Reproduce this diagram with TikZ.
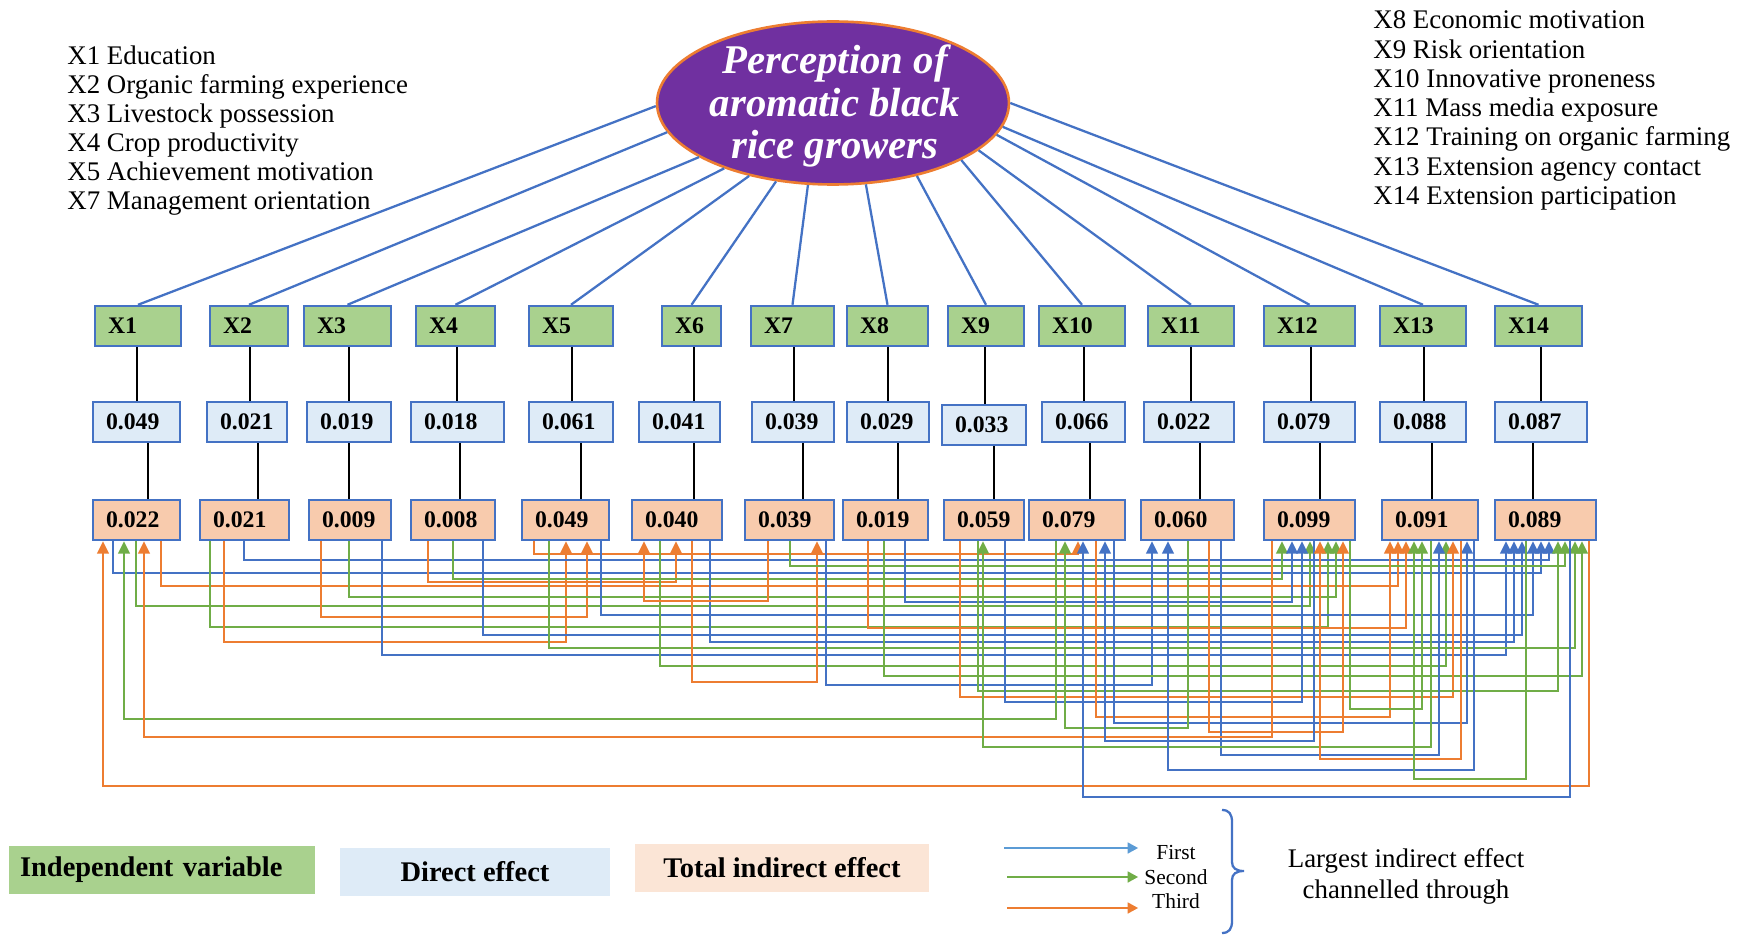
\documentclass[tikz,border=0pt]{standalone}
\usepackage{fontspec}
\setmainfont{Liberation Serif}
\usetikzlibrary{shapes.geometric,arrows.meta}
\definecolor{mblue}{HTML}{4472C4}
\definecolor{mgreen}{HTML}{70AD47}
\definecolor{morange}{HTML}{ED7D31}
\definecolor{mlight}{HTML}{5B9BD5}
\definecolor{gfill}{HTML}{A9D18E}
\definecolor{dfill}{HTML}{DEEBF7}
\definecolor{tfill}{HTML}{F8CBAD}
\definecolor{tfilllight}{HTML}{FBE5D6}
\definecolor{mpurple}{HTML}{7030A0}
\begin{document}
\begin{tikzpicture}[x=0.02cm,y=-0.02cm,
  key/.style={font=\fontsize{15.3}{17}\selectfont,inner sep=0pt},
  box/.style={draw=mblue,line width=1.4pt,inner xsep=0.26cm,inner ysep=0pt,
    minimum height=0.8cm,align=left,font=\fontsize{13.5}{15}\selectfont\bfseries},
  legbox/.style={minimum height=0.96cm,font=\fontsize{16.2}{18}\selectfont\bfseries},
  spoke/.style={mblue,line width=1.3pt},
  stem/.style={black,line width=1.2pt},
  bflow/.style={mblue,line width=1.3pt,-{Triangle[width=6.5pt,length=7pt]}},
  gflow/.style={mgreen,line width=1.3pt,-{Triangle[width=6.5pt,length=7pt]}},
  oflow/.style={morange,line width=1.3pt,-{Triangle[width=6.5pt,length=7pt]}},
  legarrow/.style={line width=1.6pt,-{Triangle[width=6pt,length=6pt]}}]
\useasboundingbox (0,0) rectangle (1745,936);
% Central variable
\node[ellipse,fill=mpurple,draw=morange,line width=1.5pt,minimum width=7.04cm,minimum height=3.26cm] (perc) at (833,103) {};
\node[text=white,align=center,font=\fontsize{23.2}{24.4}\selectfont\bfseries\itshape] (perctext) at (835,106) {Perception of\\aromatic black\\rice growers};
% Variable names
\foreach \txt [count=\k] in {X1 Education,X2 Organic farming experience,X3 Livestock possession,X4 Crop productivity,X5 Achievement motivation,X7 Management orientation}
  \node[key,anchor=base west] (kl\k) at (67,{64.5+29*(\k-1)}) {\txt};
\foreach \txt [count=\k] in {X8 Economic motivation,X9 Risk orientation,X10 Innovative proneness,X11 Mass media exposure,X12 Training on organic farming,X13 Extension agency contact,X14 Extension participation}
  \node[key,anchor=base west] (kr\k) at (1373,{29+29.2*(\k-1)}) {\txt};
% Boxes: variable, direct effect, total indirect effect
\foreach \i/\gl/\gr/\dv/\dl/\dr/\dy/\tv/\tl/\tr/\ax/\bx in {
  1/95/181/0.049/93/180/422/0.022/93/180/137/148,
  2/210/288/0.021/207/287/422/0.021/200/289/250/258,
  3/304/391/0.019/307/391/422/0.009/309/391/349/349,
  4/416/495/0.018/411/504/422/0.008/411/495/457/460,
  5/529/613/0.061/529/613/422/0.049/522/609/572/581,
  6/662/721/0.041/639/720/422/0.040/632/722/694/694,
  7/751/834/0.039/752/834/422/0.039/745/834/794/803,
  8/847/928/0.029/847/929/422/0.019/843/928/888/898,
  9/948/1024/0.033/942/1026/425/0.059/944/1024/985/994,
  10/1039/1125/0.066/1042/1125/422/0.079/1029/1125/1084/1090,
  11/1148/1234/0.022/1144/1234/422/0.060/1141/1234/1191/1200,
  12/1264/1355/0.079/1264/1355/422/0.099/1264/1355/1311/1320,
  13/1380/1466/0.088/1380/1466/422/0.091/1382/1478/1424/1432,
  14/1495/1582/0.087/1495/1587/422/0.089/1495/1596/1541/1533}{
  \pgfmathsetmacro\gw{(\gr-\gl-26)*0.02}
  \pgfmathsetmacro\dw{(\dr-\dl-26)*0.02}
  \pgfmathsetmacro\tw{(\tr-\tl-26)*0.02}
  \node[box,fill=gfill,text width=\gw cm] (g\i) at ({(\gl+\gr)/2},326) {X\i};
  \node[box,fill=dfill,text width=\dw cm] (d\i) at ({(\dl+\dr)/2},\dy) {\dv};
  \node[box,fill=tfill,text width=\tw cm] (t\i) at ({(\tl+\tr)/2},520) {\tv};
  \draw[stem] (g\i.south -| \ax,0) -- (d\i.north -| \ax,0);
  \draw[stem] (d\i.south -| \bx,0) -- (t\i.north -| \bx,0);
}
% Spokes from the ellipse
\foreach \i/\a in {1/181,2/190,3/202,4/211,5/221,6/234,7/253,8/292,9/319,10/336,11/342,12/349,13/352,14/0}
  \draw[spoke] (perc.\a) -- (g\i.north);
% Largest indirect effects
\foreach \col/\src/\sx/\lv/\tg/\tx in {
  bflow/1/113/573/14/1541, gflow/1/136/606/12/1310, oflow/1/161/586/13/1398,
  gflow/2/210/627/12/1328, oflow/2/224/642/5/566, bflow/2/244/560/14/1549,
  oflow/3/321/617/5/587, gflow/3/349/597/12/1336, bflow/3/382/655/14/1506,
  oflow/4/428/582/6/676, gflow/4/453/579/12/1282, bflow/4/483/635/14/1522,
  oflow/5/534/554/10/1078, gflow/5/549/648/14/1575, bflow/5/601/615/14/1533,
  gflow/6/660/666/13/1446, oflow/6/692/682/7/817, bflow/6/710/642/14/1514,
  oflow/7/768/601/6/644, gflow/7/790/566/14/1565, bflow/7/826/685/11/1152,
  oflow/8/868/628/13/1406, gflow/8/884/676/14/1582, bflow/8/905/602/12/1292,
  oflow/9/960/697/13/1453, gflow/9/978/691/14/1558, bflow/9/1005/702/12/1302,
  gflow/10/1056/719/1/124, oflow/10/1096/717/13/1390, bflow/10/1114/723/13/1467,
  gflow/11/1188/728/10/1065, oflow/11/1209/732/12/1343, bflow/11/1221/755/13/1439,
  oflow/12/1272/737/1/144, bflow/12/1314/741/10/1105, gflow/12/1350/709/13/1422,
  gflow/13/1431/747/9/983, oflow/13/1461/759/12/1320, bflow/13/1474/770/11/1168,
  gflow/14/1526/779/13/1414, oflow/14/1589/786/1/103, bflow/14/1570/797/10/1083}
  \draw[\col] (t\src.south -| \sx,0) |- (\tx,\lv) -- (t\tg.south -| \tx,0);
% Legend
\node[legbox,fill=gfill,inner xsep=0.22cm,text width=5.68cm,align=left] (indep) at (162,870) {Independent variable};
\node[legbox,fill=dfill,minimum width=5.4cm] (direct) at (475,872) {Direct effect};
\node[legbox,fill=tfilllight,minimum width=5.9cm] (totind) at (782,867.5) {Total indirect effect};
\node[font=\fontsize{12.2}{14}\selectfont] (first) at (1176,853) {First};
\node[font=\fontsize{12.2}{14}\selectfont] (second) at (1176,877) {Second};
\node[font=\fontsize{12.2}{14}\selectfont] (third) at (1176,901) {Third};
\coordinate (fa1) at (1004,848);
\coordinate (fa2) at (1007,877);
\coordinate (fa3) at (1007,908);
\draw[legarrow,mlight] (fa1) -- (fa1 -| second.west);
\draw[legarrow,mgreen] (fa2) -- (fa2 -| second.west);
\draw[legarrow,morange] (fa3) -- (fa3 -| second.west);
% Brace
\draw[mblue,line width=1.3pt] (1222,810) .. controls (1229,810) and (1232,814) .. (1232,822) -- (1232,862)
  .. controls (1232,868) and (1236,871) .. (1244,871) .. controls (1236,871) and (1232,874) .. (1232,880)
  -- (1232,921) .. controls (1232,929) and (1229,933) .. (1222,933);
\node[align=center,font=\fontsize{15.3}{17.6}\selectfont] (chan) at (1406,876) {Largest indirect effect\\channelled through};
\end{tikzpicture}
\end{document}
